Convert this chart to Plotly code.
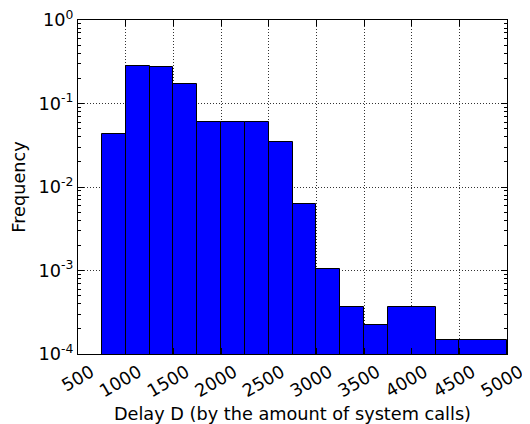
import plotly.graph_objects as go

bin_left = [750, 1000, 1250, 1500, 1750, 2000, 2250, 2500, 2750, 3000, 3250, 3500, 3750, 4250, 4500]
bin_right = [1000, 1250, 1500, 1750, 2000, 2250, 2500, 2750, 3000, 3250, 3500, 3750, 4250, 4500, 5000]
frequency = [0.043, 0.285, 0.277, 0.169, 0.0605, 0.0605, 0.0605, 0.0345, 0.0062, 0.00104,
             0.00037, 0.000223, 0.00037, 0.000146, 0.000146]

x_ticks = [500, 1000, 1500, 2000, 2500, 3000, 3500, 4000, 4500, 5000]
y_ticks = [1e-4, 1e-3, 1e-2, 1e-1, 1]
y_ticktext = ["10<sup>-4</sup>", "10<sup>-3</sup>", "10<sup>-2</sup>", "10<sup>-1</sup>", "10<sup>0</sup>"]

centers = [(a + b) / 2 for a, b in zip(bin_left, bin_right)]
widths = [b - a for a, b in zip(bin_left, bin_right)]

fig = go.Figure(go.Bar(
    x=centers, y=frequency, width=widths,
    marker=dict(color="#0000ff", line=dict(color="black", width=1)),
))

# The page body adds an 8px offset; the figure size/margins compensate for it.
font = dict(family="DejaVu Sans", size=17.7, color="black")
fig.update_layout(
    width=522, height=416,
    margin=dict(l=70, r=23, t=12, b=70),
    plot_bgcolor="white", paper_bgcolor="white",
    font=font, showlegend=False, bargap=0,
)
fig.update_xaxes(
    range=[500, 5000], tickvals=x_ticks, tickangle=-30, ticklabelshift=13,
    automargin=False, ticklabeloverflow="allow",
    ticks="inside", ticklen=6, tickcolor="black", mirror="ticks",
    showline=True, linecolor="black", linewidth=1.2,
    showgrid=True, gridcolor="#333333", griddash="1px,2px", gridwidth=1,
    zeroline=False,
    title=dict(text="Delay D (by the amount of system calls)", font=font, standoff=12),
)
fig.update_yaxes(
    type="log", range=[-4, 0], tickvals=y_ticks, ticktext=y_ticktext,
    automargin=False, ticklabeloverflow="allow",
    ticks="inside", ticklen=6, tickcolor="black", mirror="ticks",
    showline=True, linecolor="black", linewidth=1.2,
    showgrid=True, gridcolor="#333333", griddash="1px,2px", gridwidth=1,
    minor=dict(ticks="inside", ticklen=3, tickcolor="black", dtick="D1", showgrid=False),
    title=dict(text="Frequency", font=font, standoff=8),
)
fig.write_html("out.html")
